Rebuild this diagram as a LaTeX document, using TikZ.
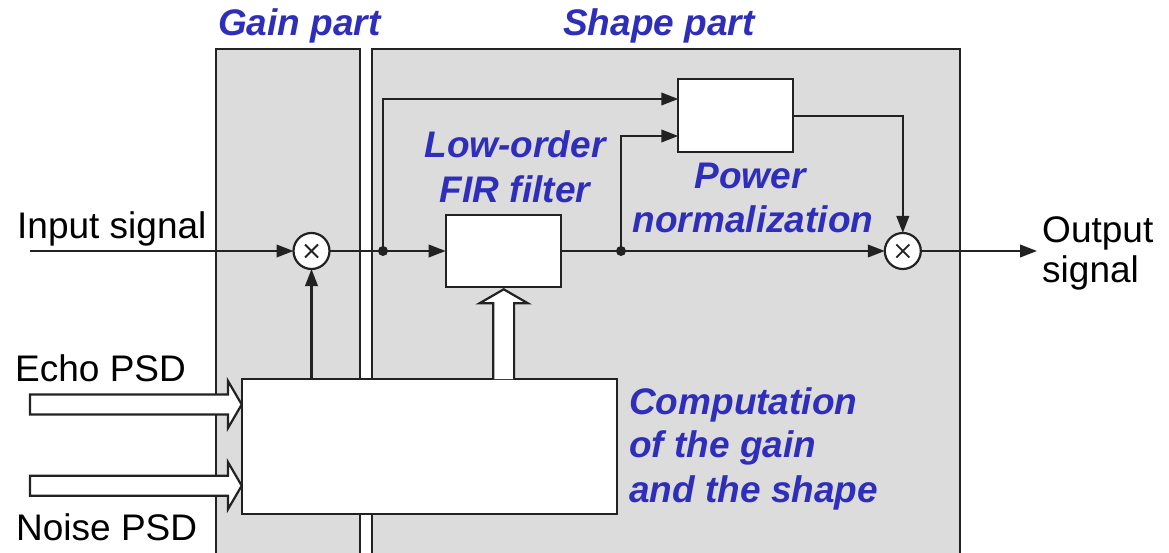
\documentclass[tikz,border=0pt]{standalone}
\usepackage{fontspec}
\setmainfont{Liberation Sans}
\usetikzlibrary{arrows.meta,calc}
\definecolor{lbl}{RGB}{46,46,186}
\definecolor{panel}{RGB}{220,220,220}
\definecolor{ink}{RGB}{34,34,34}
\begin{document}
\begin{tikzpicture}[x=1pt,y=-1pt,
  wire/.style={draw=ink,line width=2.2pt},
  arr/.style={wire,-{Triangle[length=17pt,width=12.5pt]}},
  blk/.style={draw=ink,line width=2.2pt,fill=white,inner sep=0pt,outer sep=0pt},
  mult/.style={draw=ink,line width=2.2pt,fill=white,circle,minimum size=36pt,inner sep=0pt,outer sep=0pt},
  xmark/.style={draw=ink,line width=1.8pt},
  panelst/.style={draw=ink,line width=2.2pt,fill=panel},
  hollow/.style={draw=ink,line width=2.2pt,fill=white,line join=miter},
  lab/.style={font=\fontsize{37}{44}\selectfont\bfseries\itshape,text=lbl,inner sep=0pt},
  txt/.style={font=\fontsize{37}{40}\selectfont,text=black,inner sep=0pt}
]
\useasboundingbox (0,0) rectangle (1169,553);
% panels
\path[panelst] (216,570) -- (216,49) -- (360,49) -- (360,570);
\path[panelst] (372,570) -- (372,49) -- (960,49) -- (960,570);
% titles
\node[lab,anchor=base west] (tgain) at (218,36) {Gain part};
\node[lab,anchor=base west] (tshape) at (563,36) {Shape part};
% blocks
\node[mult] (mult1) at (311.5,251) {};
\node[mult] (mult2) at (902.8,251) {};
\node[blk,minimum width=115.3pt,minimum height=72.3pt] (fir) at (503.3,251) {};
\node[blk,minimum width=115pt,minimum height=73pt] (pow) at (735.8,115.8) {};
\coordinate (d1) at (383,251);
\coordinate (d2) at (621,251);
\coordinate (inStart) at (30,251);
\coordinate (outEnd) at (1037,251);
% wires
\draw[arr] (inStart) -- (mult1.west);
\draw[wire] (mult1.east) -- (d1);
\draw[arr] (d1) -- (fir.west);
\draw[wire] (fir.east) -- (d2);
\draw[arr] (d2) -- (mult2.west);
\draw[arr] (mult2.east) -- (outEnd);
\draw[arr] (d1) |- ([yshift=16.8pt]pow.west);
\draw[arr] (d2) |- ([yshift=-20.2pt]pow.west);
\draw[arr] (pow.east) -| (mult2.north);
\fill[ink] (d1) circle (5pt);
\fill[ink] (d2) circle (5pt);
% multiplier crosses
\draw[xmark] ([shift={(-6.5,-6.5)}]mult1.center) -- ([shift={(6.5,6.5)}]mult1.center);
\draw[xmark] ([shift={(-6.5,6.5)}]mult1.center) -- ([shift={(6.5,-6.5)}]mult1.center);
\draw[xmark] ([shift={(-6.5,-6.5)}]mult2.center) -- ([shift={(6.5,6.5)}]mult2.center);
\draw[xmark] ([shift={(-6.5,6.5)}]mult2.center) -- ([shift={(6.5,-6.5)}]mult2.center);
% computation block
\node[blk,minimum width=375pt,minimum height=135.2pt] (comp) at (429.2,446.6) {};
\draw[arr] (comp.north -| mult1) -- (mult1.south);
% hollow arrows
\draw[hollow] (30,394.5) -- (228,394.5) -- (228,381) -- (241.7,404.5) -- (228,428) -- (228,414.5) -- (30,414.5) -- cycle;
\draw[hollow] (30,475.7) -- (228,475.7) -- (228,462.2) -- (241.7,485.7) -- (228,509.2) -- (228,495.7) -- (30,495.7) -- cycle;
\draw[hollow] (493.3,379) -- (493.3,303.3) -- (479.5,303.3) -- (503.7,289.3) -- (527.9,303.3) -- (514.1,303.3) -- (514.1,379);
% labels
\node[lab,anchor=base] (l1) at (515,158) {Low-order};
\node[lab,anchor=base] (l2) at (515,203) {FIR filter};
\node[lab,anchor=base] (p1) at (750,189) {Power};
\node[lab,anchor=base] (p2) at (753,233) {normalization};
\node[lab,anchor=base west] (c1) at (629,414) {Computation};
\node[lab,anchor=base west] (c2) at (629,457) {of the gain};
\node[lab,anchor=base west] (c3) at (629,502) {and the shape};
\node[txt,anchor=base west] (tin) at (17,239) {Input signal};
\node[txt,anchor=base west] (tout1) at (1042,243) {Output};
\node[txt,anchor=base west] (tout2) at (1042,283) {signal};
\node[txt,anchor=base west] (techo) at (15,381) {Echo PSD};
\node[txt,anchor=base west] (tnoise) at (16,540) {Noise PSD};
\end{tikzpicture}
\end{document}
